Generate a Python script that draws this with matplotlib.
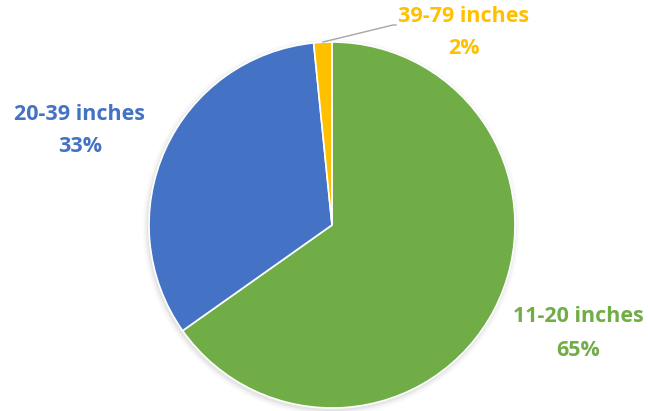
import matplotlib.pyplot as plt
from matplotlib.patches import Circle

plt.rcParams['font.family'] = ['Open Sans', 'DejaVu Sans']

# slice sizes, clockwise from 12 o'clock
labels = ["11-20 inches", "20-39 inches", "39-79 inches"]
pct_labels = ["65%", "33%", "2%"]
values = [65.2, 33.2, 1.6]
colors = ["#70AD47", "#4472C4", "#FFC000"]

W, H = 648, 411
fig = plt.figure(figsize=(W / 100, H / 100), dpi=100)
ax = fig.add_axes([0, 0, 1, 1])

cx, cy, r = 332, 186, 183

# faint soft shadow behind the pie
for i, a in enumerate([0.04, 0.03, 0.02, 0.015]):
    ax.add_patch(Circle((cx - 1, cy - 2), r + 1 + i * 1.5, color='black',
                        alpha=a, lw=0, zorder=0))

ax.pie(values, colors=colors, startangle=90, counterclock=False,
       center=(cx, cy), radius=r, frame=True,
       wedgeprops=dict(edgecolor='white', linewidth=1.2))
ax.set_xlim(0, W)
ax.set_ylim(0, H)
ax.set_aspect('equal')
ax.axis('off')

# label positions (name line, percent line)
pos = [(578, H - 316, H - 350), (80, H - 115, H - 146), (464, H - 17, H - 49)]
for lab, pc, col, (x, y1, y2) in zip(labels, pct_labels, colors, pos):
    ax.text(x, y1, lab, color=col, fontsize=15.5, fontweight='bold',
            ha='center', va='center')
    ax.text(x, y2, pc, color=col, fontsize=15.5, fontweight='bold',
            ha='center', va='center')

# leader line to the small slice
ax.plot([323, 393, 396], [H - 42, H - 25, H - 25], color='#A6A6A6', lw=1)

fig.savefig("out.png", dpi=100)
